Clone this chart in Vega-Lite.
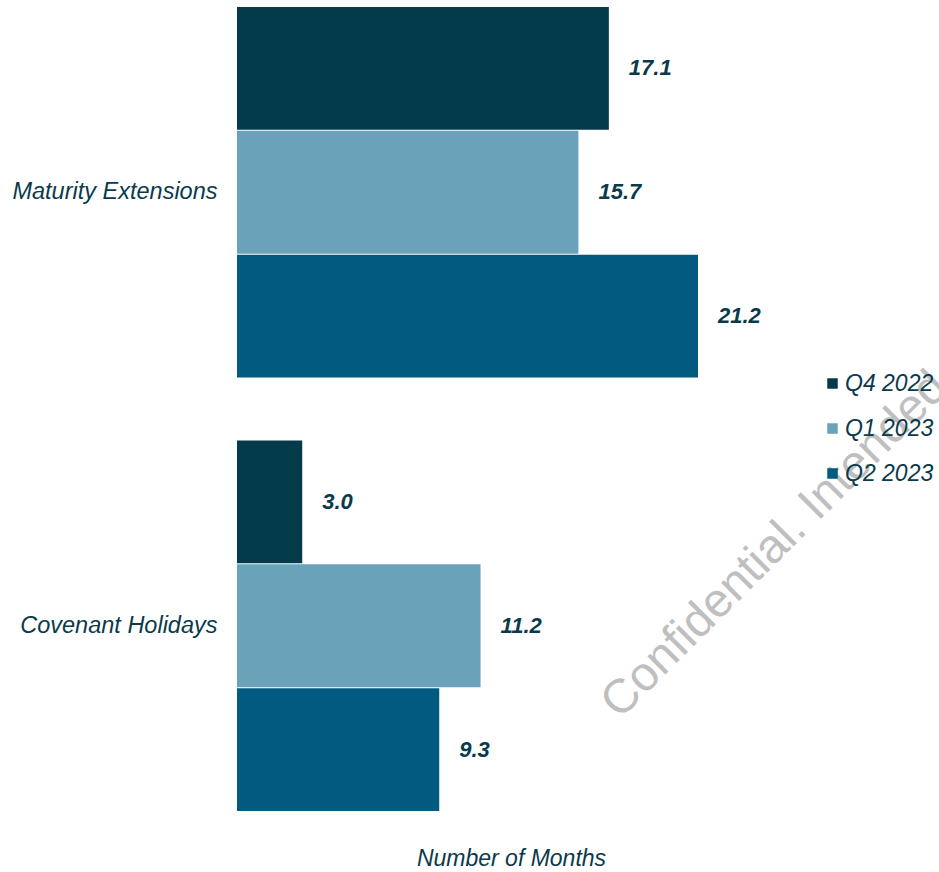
{
  "$schema": "https://vega.github.io/schema/vega-lite/v6.json",
  "autosize": {"type": "none"},
  "width": 548,
  "height": 804,
  "padding": {"left": 237, "top": 7, "right": 154, "bottom": 61},
  "background": "white",
  "config": {"view": {"stroke": null}, "font": "Liberation Sans"},
  "layer": [
    {
      "data": {"values": [
        {"type": "Maturity Extensions", "quarter": "Q4 2022", "months": 17.1},
        {"type": "Maturity Extensions", "quarter": "Q1 2023", "months": 15.7},
        {"type": "Maturity Extensions", "quarter": "Q2 2023", "months": 21.2},
        {"type": "Covenant Holidays", "quarter": "Q4 2022", "months": 3.0},
        {"type": "Covenant Holidays", "quarter": "Q1 2023", "months": 11.2},
        {"type": "Covenant Holidays", "quarter": "Q2 2023", "months": 9.3}
      ]},
      "layer": [
        {
          "mark": {"type": "bar"},
          "encoding": {
            "y": {"field": "type", "type": "nominal", "sort": ["Maturity Extensions", "Covenant Holidays"],
                  "scale": {"paddingInner": 0.145, "paddingOuter": 0},
                  "axis": {"title": null, "ticks": false, "domain": false, "labelFontSize": 23.5, "labelFontStyle": "italic", "labelColor": "#0b3a4b", "labelPadding": 20, "labelLimit": 300}},
            "yOffset": {"field": "quarter", "sort": ["Q4 2022", "Q1 2023", "Q2 2023"], "scale": {"paddingInner": 0.008, "paddingOuter": 0}},
            "x": {"field": "months", "type": "quantitative", "scale": {"domain": [0, 25.2], "nice": false},
                  "axis": {"labels": false, "ticks": false, "domain": false, "grid": false, "title": "Number of Months", "titleFontSize": 23, "titleFontStyle": "italic", "titleFontWeight": "normal", "titleColor": "#0b3a4b", "titlePadding": 36}},
            "color": {"field": "quarter", "type": "nominal", "sort": ["Q4 2022", "Q1 2023", "Q2 2023"],
                      "scale": {"domain": ["Q4 2022", "Q1 2023", "Q2 2023"], "range": ["#033b4b", "#6aa3b9", "#035a80"]},
                      "legend": {"title": null, "orient": "none", "legendX": 584, "legendY": 365, "symbolType": "square", "symbolSize": 110, "labelFontSize": 23, "labelFontStyle": "italic", "labelColor": "#0b3a4b", "rowPadding": 21, "labelOffset": 1}}
          }
        },
        {
          "mark": {"type": "text", "align": "left", "baseline": "middle", "dx": 20, "fontSize": 22, "fontStyle": "italic", "fontWeight": "bold", "color": "#0b3a4b"},
          "encoding": {
            "y": {"field": "type", "type": "nominal", "sort": ["Maturity Extensions", "Covenant Holidays"]},
            "yOffset": {"field": "quarter", "sort": ["Q4 2022", "Q1 2023", "Q2 2023"]},
            "x": {"field": "months", "type": "quantitative"},
            "text": {"field": "months", "type": "quantitative", "format": ".1f"}
          }
        }
      ]
    },
    {
      "data": {"values": [{"wm": "Confidential. Intended for"}]},
      "mark": {"type": "text", "align": "left", "baseline": "alphabetic", "angle": -45, "fontSize": 48, "color": "#bfbfbf"},
      "encoding": {
        "x": {"datum": 17.6, "type": "quantitative"},
        "y": {"datum": "Covenant Holidays", "type": "nominal", "bandPosition": 0.755},
        "text": {"field": "wm", "type": "nominal"}
      }
    }
  ]
}
